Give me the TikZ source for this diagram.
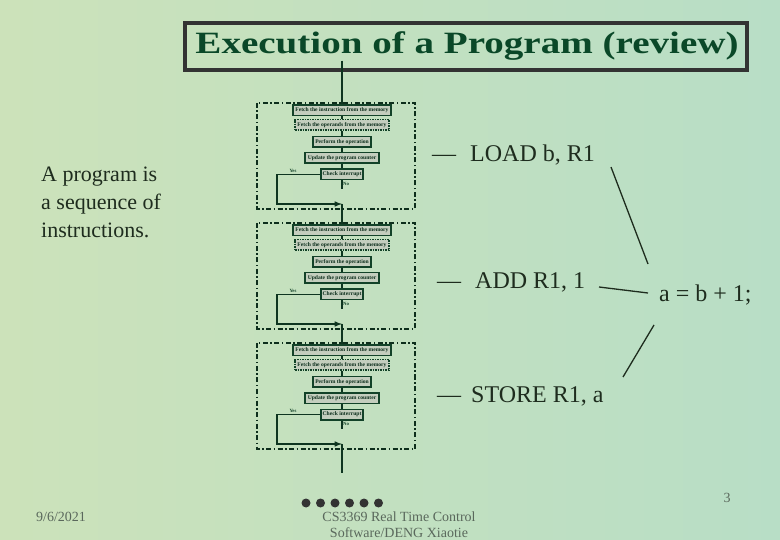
\documentclass[tikz,border=0pt]{standalone}
\usepackage{fontspec}
\setmainfont{Liberation Serif}
\definecolor{flowgreen}{RGB}{18,66,40}
\definecolor{titlegreen}{RGB}{10,72,40}
\definecolor{textdark}{RGB}{30,44,30}
\definecolor{boxgray}{RGB}{196,206,190}
\definecolor{footgray}{RGB}{90,104,92}
\definecolor{bgleft}{RGB}{204,226,186}
\definecolor{bgright}{RGB}{184,222,198}
\tikzset{
  flowbox/.style={draw=flowgreen, line width=1.5pt, fill=boxgray, text=flowgreen!70!black,
    font=\fontsize{5.6}{6}\selectfont\bfseries, inner sep=0.5pt, minimum height=10.5pt},
  flowline/.style={draw=flowgreen!80!black, line width=1.5pt},
  blockframe/.style={draw=flowgreen!70!black, line width=1.5pt,
    dash pattern=on 5pt off 2.5pt on 1.5pt off 2.5pt},
  tinylabel/.style={font=\fontsize{4.8}{5}\selectfont\bfseries, text=flowgreen, inner sep=0pt},
  codetext/.style={font=\fontsize{24}{28}\selectfont, text=textdark, anchor=west, inner sep=0pt},
  foottext/.style={font=\fontsize{14}{16}\selectfont, text=footgray, inner sep=0pt},
}
\begin{document}
\begin{tikzpicture}[x=1pt,y=-1pt]
\shade[left color=bgleft, right color=bgright] (0,0) rectangle (780,540);
\useasboundingbox (0,0) rectangle (780,540);

% title
\draw[line width=3.5pt, draw=black!80] (185,23) rectangle (747,70);
\node[font=\fontsize{31}{34}\selectfont\bfseries, text=titlegreen, inner sep=0pt] (title) at (467,46) {\scalebox{1.26}[1]{Execution of a Program (review)}};

% left text
\node[font=\fontsize{22}{28}\selectfont, text=textdark, align=left, anchor=north west, inner sep=0pt] (intro) at (41,167) {A program is\\a sequence of\\instructions.};

% block 1
\draw[blockframe] (257,103) rectangle (415,209);
\node[flowbox, minimum width=98pt] (fetchA) at (342,110.5) {Fetch the instruction from the memory};
\node[flowbox, minimum width=94pt, densely dotted] (operA) at (342,125) {Fetch the operands from the memory};
\node[flowbox, minimum width=58pt] (perfA) at (342,142) {Perform the operation};
\node[flowbox, minimum width=74pt] (updA) at (342,158) {Update the program counter};
\node[flowbox, minimum width=42pt] (intA) at (342,174.5) {Check interrupt};
\node[tinylabel] (yesA) at (293,171) {Yes};
\node[tinylabel] (noA) at (346,184) {No};
\coordinate (joinA) at (342,204);
\coordinate (exitA) at (342,189);
\draw[flowline] (fetchA) -- (operA);
\draw[flowline] (operA) -- (perfA);
\draw[flowline] (perfA) -- (updA);
\draw[flowline] (updA) -- (intA);
\draw[flowline, -latex] (intA.west) -| (277,190) |- (joinA);
\draw[flowline] (intA) -- (exitA);

% block 2
\draw[blockframe] (257,223) rectangle (415,329);
\node[flowbox, minimum width=98pt] (fetchB) at (342,230.5) {Fetch the instruction from the memory};
\node[flowbox, minimum width=94pt, densely dotted] (operB) at (342,245) {Fetch the operands from the memory};
\node[flowbox, minimum width=58pt] (perfB) at (342,262) {Perform the operation};
\node[flowbox, minimum width=74pt] (updB) at (342,278) {Update the program counter};
\node[flowbox, minimum width=42pt] (intB) at (342,294.5) {Check interrupt};
\node[tinylabel] (yesB) at (293,291) {Yes};
\node[tinylabel] (noB) at (346,304) {No};
\coordinate (joinB) at (342,324);
\coordinate (exitB) at (342,309);
\draw[flowline] (fetchB) -- (operB);
\draw[flowline] (operB) -- (perfB);
\draw[flowline] (perfB) -- (updB);
\draw[flowline] (updB) -- (intB);
\draw[flowline, -latex] (intB.west) -| (277,310) |- (joinB);
\draw[flowline] (intB) -- (exitB);

% block 3
\draw[blockframe] (257,343) rectangle (415,449);
\node[flowbox, minimum width=98pt] (fetchC) at (342,350.5) {Fetch the instruction from the memory};
\node[flowbox, minimum width=94pt, densely dotted] (operC) at (342,365) {Fetch the operands from the memory};
\node[flowbox, minimum width=58pt] (perfC) at (342,382) {Perform the operation};
\node[flowbox, minimum width=74pt] (updC) at (342,398) {Update the program counter};
\node[flowbox, minimum width=42pt] (intC) at (342,414.5) {Check interrupt};
\node[tinylabel] (yesC) at (293,411) {Yes};
\node[tinylabel] (noC) at (346,424) {No};
\coordinate (joinC) at (342,444);
\coordinate (exitC) at (342,429);
\draw[flowline] (fetchC) -- (operC);
\draw[flowline] (operC) -- (perfC);
\draw[flowline] (perfC) -- (updC);
\draw[flowline] (updC) -- (intC);
\draw[flowline, -latex] (intC.west) -| (277,430) |- (joinC);
\draw[flowline] (intC) -- (exitC);

% links between blocks
\coordinate (tail) at (342,473);
\draw[flowline] (title.south -| fetchA) -- (fetchA);
\draw[flowline] (joinA) -- (fetchB);
\draw[flowline] (joinB) -- (fetchC);
\draw[flowline] (joinC) -- (tail);

% instructions
\node[codetext] (load) at (432,155) {—\hspace{14pt}LOAD b, R1};
\node[codetext] (add) at (437,282) {—\hspace{14pt}ADD R1, 1};
\node[codetext] (store) at (437,396) {—\hspace{10pt}STORE R1, a};
\node[codetext] (expr) at (659,295) {a = b + 1;};
\coordinate (loadEnd) at (611,167);
\coordinate (exprTop) at (648,264);
\coordinate (addEnd) at (599,287);
\coordinate (exprLeft) at (648,293);
\coordinate (exprLow) at (654,325);
\coordinate (storeEnd) at (623,377);
\draw[line width=1.3pt, draw=textdark] (loadEnd) -- (exprTop);
\draw[line width=1.3pt, draw=textdark] (addEnd) -- (exprLeft);
\draw[line width=1.3pt, draw=textdark] (exprLow) -- (storeEnd);

% dots
\fill[black!80] (306,503) circle (4.5pt);
\fill[black!80] (320.5,503) circle (4.5pt);
\fill[black!80] (335,503) circle (4.5pt);
\fill[black!80] (349.5,503) circle (4.5pt);
\fill[black!80] (364,503) circle (4.5pt);
\fill[black!80] (378.5,503) circle (4.5pt);

% footer
\node[foottext] (date) at (61,517) {9/6/2021};
\node[foottext, align=center] (course) at (399,525) {CS3369 Real Time Control\\Software/DENG Xiaotie};
\node[foottext] (page) at (727,498) {3};
\end{tikzpicture}
\end{document}
